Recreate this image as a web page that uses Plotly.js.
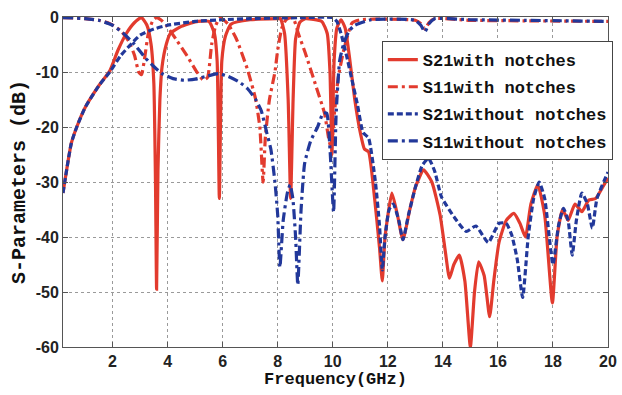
<!DOCTYPE html>
<html>
<head>
<meta charset="utf-8">
<script src="https://cdn.plot.ly/plotly-3.0.1.min.js"></script>
<style>html,body{margin:0;padding:0;background:#fff;}#chart{width:622px;height:395px;}</style>
</head>
<body>
<div id="chart"></div>
<script>
// S21 with notches (red solid)
const fS21with = [0.2,0.5,0.7,1.0,1.5,1.9,2.2,2.5,2.8,3.05,3.25,3.4,3.5,3.56,3.6,3.65,3.72,3.8,3.95,4.1,4.5,5.0,5.5,5.7,5.8,5.88,5.97,6.1,6.3,7.0,8.0,8.1,8.25,8.38,8.47,8.56,8.65,8.8,9.0,9.6,9.8,9.9,9.97,10.05,10.15,10.3,10.45,10.6,10.8,11.0,11.15,11.3,11.5,11.7,11.8,11.9,12.15,12.35,12.55,12.8,13.0,13.3,13.6,13.9,14.1,14.24,14.4,14.6,14.8,15.0,15.15,15.3,15.5,15.7,15.85,16.04,16.3,16.58,16.8,17.0,17.2,17.45,17.7,17.98,18.15,18.35,18.55,18.8,19.05,19.3,19.55,19.8,20.0];
const s21with  = [-32,-23,-20,-16.5,-12.5,-9.8,-6,-3,-1,-0.1,-1.5,-5,-12,-30,-49.5,-28,-15,-9,-5,-3,-1.7,-0.9,-0.8,-3,-8,-33,-8,-3.5,-1.3,-0.5,-0.3,-0.3,-3,-15,-33,-15,-4,-1,-0.3,-0.8,-3,-10,-25,-8,-2,-0.5,-2,-7,-15,-21,-24,-24.5,-32,-42,-48,-40,-32,-36,-40.5,-35,-31,-27.8,-30,-36,-43,-47.5,-45,-43.3,-48,-60,-50,-44.5,-47,-54.5,-48,-41,-37,-35.7,-37.5,-40,-34,-30.5,-36,-52,-40,-35,-37,-34,-35.4,-33.3,-33,-31,-29.3];

// S11 with notches (red dash-dot)
const fS11with = [0.2,1.0,1.5,1.9,2.3,2.6,2.8,2.95,3.05,3.15,3.3,3.45,3.6,3.75,3.95,4.3,4.7,5.0,5.3,5.45,5.6,5.75,5.9,6.05,6.2,6.5,6.9,7.2,7.35,7.47,7.55,7.7,7.9,8.0,8.15,8.3,8.48,8.6,8.75,9.0,9.4,9.7,9.85,9.95,10.05,10.2,10.4,10.7,11.0,12.0,13.0,13.2,13.35,13.5,13.7,15.0,17.0,20.0];
const s11with  = [-0.1,-0.3,-0.6,-1.2,-2.5,-4.5,-7,-10,-10.5,-8,-3,-0.8,-0.1,-0.5,-1.5,-4,-7,-9.5,-11.5,-11,-5,-1.5,-0.2,-0.6,-1.3,-4,-9.5,-15,-20,-30,-22,-15,-10,-6,-2,-0.5,-0.1,-0.6,-3,-6.5,-12.7,-17.5,-22,-24,-18,-11,-6,-1.1,-0.5,-0.4,-0.6,-1.2,-2.2,-1.0,-0.3,-0.6,-0.7,-0.8];

// S21 without notches (blue dashed)
const fS21wo = [0.2,0.5,0.7,1.0,1.5,1.9,2.3,2.7,3.0,3.5,4.0,5.0,6.0,7.0,8.0,9.0,10.0,10.15,10.3,10.5,10.7,10.9,11.1,11.3,11.55,11.7,11.8,11.9,12.05,12.2,12.4,12.55,12.75,13.0,13.25,13.48,13.7,13.95,14.4,14.85,15.2,15.65,16.04,16.3,16.5,16.7,16.9,17.1,17.3,17.5,17.7,18.0,18.2,18.38,18.55,18.7,18.85,19.05,19.25,19.43,19.6,20.0];
const s21wo  = [-32,-23,-20,-16.5,-12.5,-10,-7,-4.8,-3.3,-2.2,-1.5,-0.8,-0.5,-0.3,-0.2,-0.1,-0.1,-0.8,-3,-7,-11.5,-16,-21,-22,-30,-38,-46,-40,-35,-34,-37,-40.5,-36,-31,-27,-25.7,-28,-32.7,-36.3,-39,-38,-41,-37.5,-37.5,-39.6,-44,-51,-40,-33,-30,-33,-45,-38,-34.8,-37,-43.3,-37,-32,-34,-38.4,-33,-28.2];

// S11 without notches (blue dash-dot)
const fS11wo = [0.2,1.0,1.5,2.0,2.4,2.8,3.2,3.5,3.8,4.2,4.6,5.0,5.4,5.85,6.2,6.6,6.9,7.2,7.4,7.6,7.75,7.9,8.0,8.08,8.2,8.35,8.45,8.55,8.65,8.73,8.85,8.98,9.2,9.45,9.65,9.78,9.9,10.03,10.12,10.25,10.4,10.6,10.8,11.4,13.0,13.2,13.35,13.5,13.7,15.0,17.0,20.0];
const s11wo  = [-0.1,-0.3,-0.6,-1.5,-3,-5,-7.5,-9,-10.3,-11.2,-11.5,-11.3,-10.8,-10.3,-10.8,-11.8,-13,-15,-17,-21,-24,-30,-36,-45.5,-37,-32,-30.5,-33,-40,-48.7,-35,-26.6,-22.5,-20,-17.5,-17.5,-24,-35.5,-18,-8,-4.8,-2.5,-1.5,-0.5,-0.6,-1.5,-2.7,-1.2,-0.3,-0.5,-0.6,-0.8];

const seriesNames = ['S21with notches','S11with notches','S21without notches','S11without notches'];
const xTicks = [2,4,6,8,10,12,14,16,18,20];
const yTicks = [0,-10,-20,-30,-40,-50,-60];

const RED = '#e23b2e', BLUE = '#22389a';
const mk = (x, y, name, color, dash, g) => ({
  x: x, y: y, name: name, type: 'scatter', mode: 'lines',
  line: {color: color, width: 3.2, dash: dash, shape: 'spline', smoothing: 0.5},
  legendgroup: g
});
const data = [
  mk(fS21with, s21with, seriesNames[0], RED, 'solid', 'a'),
  mk(fS11with, s11with, seriesNames[1], RED, '10px,4px,3px,4px', 'b'),
  mk(fS21wo, s21wo, seriesNames[2], BLUE, '6px,3px', 'c'),
  mk(fS11wo, s11wo, seriesNames[3], BLUE, '10px,4px,3px,4px', 'd')
];
const axisCommon = {
  showline: true, mirror: 'ticks', linecolor: '#555', linewidth: 1,
  ticks: 'inside', ticklen: 5, tickcolor: '#555',
  showgrid: true, gridcolor: '#9a9a9a', griddash: 'dot', gridwidth: 1,
  zeroline: false,
  tickfont: {family: 'Liberation Sans, Arial, sans-serif', size: 16, color: '#222', weight: 'bold'}
};
const layout = {
  width: 622, height: 395,
  margin: {l: 63, r: 9, t: 17, b: 48},
  paper_bgcolor: '#fff', plot_bgcolor: '#fff',
  showlegend: true,
  legend: {
    x: 0.585, y: 0.927, xanchor: 'left', yanchor: 'top',
    bgcolor: '#fff', bordercolor: '#444', borderwidth: 1,
    font: {family: 'Liberation Mono, Courier New, monospace', size: 17, color: '#111', weight: 'bold'},
    traceorder: 'grouped', tracegroupgap: 2
  },
  xaxis: Object.assign({}, axisCommon, {
    range: [0.2, 20], tickvals: xTicks, ticktext: xTicks.map(String),
    title: {text: 'Frequency(GHz)', standoff: 2,
      font: {family: 'Liberation Mono, Courier New, monospace', size: 17, color: '#111', weight: 'bold'}}
  }),
  yaxis: Object.assign({}, axisCommon, {
    range: [-60, 0], tickvals: yTicks, ticktext: yTicks.map(String),
    title: {text: 'S-Parameters (dB)', standoff: 4,
      font: {family: 'Liberation Mono, Courier New, monospace', size: 20, color: '#111', weight: 'bold'}}
  })
};
Plotly.newPlot('chart', data, layout, {displayModeBar: false, staticPlot: true});
</script>
</body>
</html>
